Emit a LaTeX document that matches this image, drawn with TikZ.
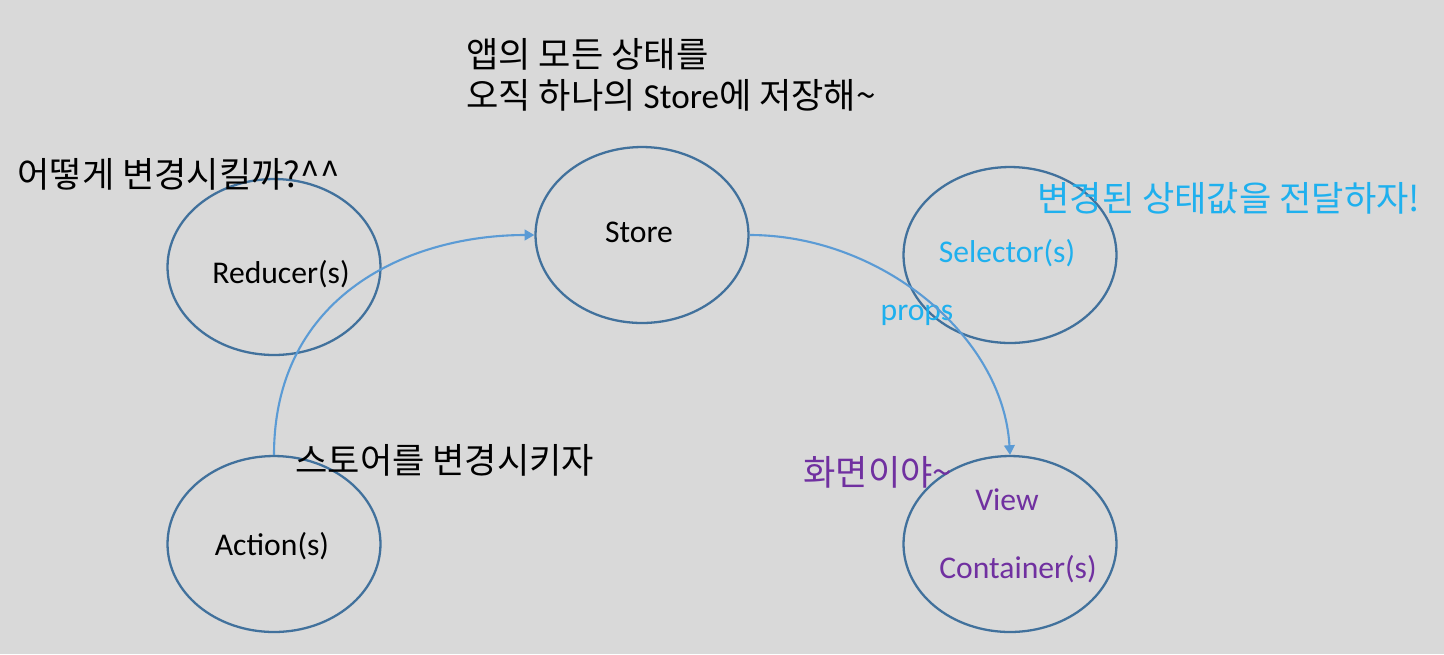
\documentclass[tikz,border=0pt]{standalone}
\usepackage{fontspec}
\setmainfont{Carlito}
\newfontfamily\kr{Noto Sans CJK KR}
\usetikzlibrary{shapes.geometric,arrows.meta}
\definecolor{slidebg}{HTML}{D9D9D9}
\definecolor{rimblue}{HTML}{41719C}
\definecolor{flowblue}{HTML}{5B9BD5}
\definecolor{hintcyan}{HTML}{1FB0EE}
\definecolor{viewpurple}{HTML}{7030A0}

\begin{document}
\begin{tikzpicture}[x=0.02cm,y=-0.02cm,
	part/.style={ellipse,draw=rimblue,line width=1.3pt,minimum width=4.26cm,minimum height=3.52cm,inner sep=0pt},
	word/.style={anchor=base,inner sep=0pt,font=\fontsize{18}{22}\selectfont},
	remark/.style={anchor=base west,inner sep=0pt,font=\kr\fontsize{20}{24}\selectfont},
	flow/.style={draw=flowblue,line width=1.2pt,-{Triangle[length=5.5pt,width=6pt]}}]
	\fill[slidebg] (0,0) rectangle (1444,654);
	\useasboundingbox (0,0) rectangle (1444,654);
	
	%circles
	\node[part] (reducer)  at (274,267) {};
	\node[part] (store)    at (642,235) {};
	\node[part] (selector) at (1010,255) {};
	\node[part] (action)   at (274,544) {};
	\node[part] (view)     at (1010,544) {};
	
	%labels
	\node[word] (reducerlbl)  at (281,283)  {Reducer(s)};
	\node[word] (storelbl)    at (639,242)  {Store};
	\node[word,text=hintcyan] (selectorlbl) at (1007,262) {Selector(s)};
	\node[word] (actionlbl)   at (272,555)  {Action(s)};
	\node[word,text=viewpurple] (viewlbl)      at (1007,510) {View};
	\node[word,text=viewpurple] (containerlbl) at (1018,578) {Container(s)};
	\node[word,text=hintcyan] (propslbl)    at (917,320)  {props};
	
	%remarks
	\node[remark] (storenote)  at (466,67)  {앱의 모든 상태를};
	\node[remark] (storenote2) at (466,108) {오직 하나의 {\rmfamily Store}에 저장해\textasciitilde};
	\node[remark] (reducernote) at (17,187) {어떻게 변경시킬까?\textasciicircum\textasciicircum};
	\node[remark,text=hintcyan] (selectornote) at (1037,211) {변경된 상태값을 전달하자!};
	\node[remark] (actionnote) at (295,473) {스토어를 변경시키자};
	\node[remark,text=viewpurple] (viewnote) at (803,485) {화면이야\textasciitilde};
	
	%flow
	\draw[flow] (action.north) .. controls +(0,-160) and +(-125,0) .. (store.west);
	\draw[flow] (store.east) .. controls +(130,0) and +(-7,-120) .. (view.north);
\end{tikzpicture}
\end{document}
